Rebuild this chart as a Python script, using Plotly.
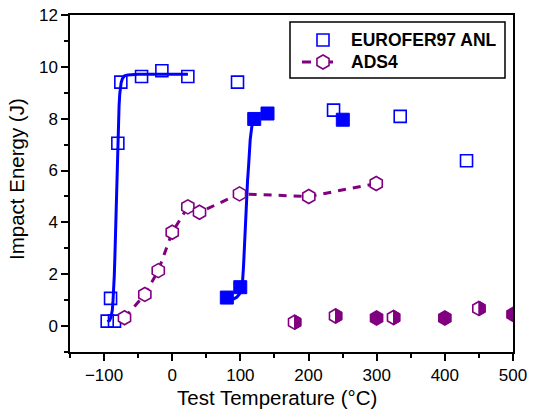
import plotly.graph_objects as go

# EUROFER97 ANL - open squares
euro_open_T = [-95.4, -90.5, -84.7, -79.8, -75.4, -45.0, -15.2, 22.9, 95.8, 236.7, 334.5, 431.8]
euro_open_E = [0.19, 1.07, 0.19, 7.05, 9.41, 9.63, 9.85, 9.63, 9.41, 8.33, 8.09, 6.38]

# EUROFER97 ANL - filled squares
euro_fill_T = [80.1, 99.8, 120.3, 139.8, 250.3]
euro_fill_E = [1.10, 1.50, 7.99, 8.20, 7.96]

# transition curves (traced along the drawn fits)
fit1_T = [-95, -92, -90, -88, -87, -86, -85, -84, -83, -82, -81, -80, -79, -78, -77, -76, -75, -73, -70, -65, -50, 0, 23]
fit1_E = [0.17, 0.22, 0.34, 0.6, 0.92, 1.35, 1.95, 2.8, 3.79, 4.93, 6.07, 7.1, 7.91, 8.5, 8.95, 9.2, 9.38, 9.55, 9.65, 9.69, 9.71, 9.71, 9.71]
fit2_T = [89, 95, 99, 102.5, 104.6, 106.5, 108.6, 110.5, 112, 114.4, 116.8, 120]
fit2_E = [1.03, 1.12, 1.25, 1.45, 2.3, 3.5, 4.9, 5.6, 6.16, 7.19, 7.7, 8.0]

# ADS4 - open hexagons joined by dashed line
ads_T = [-70.0, -40.2, -20.5, 0.0, 22.9, 40.0, 98.7, 200.4, 299.3]
ads_E = [0.32, 1.22, 2.14, 3.62, 4.60, 4.39, 5.10, 5.00, 5.50]

# ADS4 - half-filled hexagons
ads_half_T = [179.5, 239.6, 324.7, 449.9]
ads_half_E = [0.15, 0.39, 0.33, 0.68]

# ADS4 - filled hexagons
ads_fill_T = [299.8, 400.0, 500.0]
ads_fill_E = [0.31, 0.31, 0.45]

legend_names = ["EUROFER97 ANL", "ADS4"]

BLUE = "#0000FF"
PURPLE = "#800080"
FONT = "Liberation Sans, Arial, Helvetica, sans-serif"
HEX_SIZE = 14
SQ_SIZE = 12
DASH = "8px,7px"

fig = go.Figure()

for tx, ey in ((fit1_T, fit1_E), (fit2_T, fit2_E)):
    fig.add_trace(go.Scatter(x=tx, y=ey, mode="lines",
                             line=dict(color=BLUE, width=3),
                             showlegend=False, hoverinfo="skip"))

open_square = dict(symbol="square", size=SQ_SIZE, color="rgba(0,0,0,0)",
                   line=dict(color=BLUE, width=1.6))
open_hex = dict(symbol="hexagon", size=HEX_SIZE, color="white",
                line=dict(color=PURPLE, width=1.6))

fig.add_trace(go.Scatter(
    x=euro_open_T, y=euro_open_E, mode="markers", name=legend_names[0],
    marker=open_square, showlegend=False))

fig.add_trace(go.Scatter(
    x=euro_fill_T, y=euro_fill_E, mode="markers", showlegend=False,
    marker=dict(symbol="square", size=SQ_SIZE + 1, color=BLUE,
                line=dict(color=BLUE, width=1))))

fig.add_trace(go.Scatter(
    x=ads_T, y=ads_E, mode="lines+markers", name=legend_names[1],
    line=dict(color=PURPLE, width=3, dash=DASH),
    marker=open_hex, showlegend=False))

fig.add_trace(go.Scatter(
    x=ads_half_T, y=ads_half_E, mode="markers", showlegend=False,
    marker=open_hex))

fig.add_trace(go.Scatter(
    x=ads_fill_T, y=ads_fill_E, mode="markers", showlegend=False,
    marker=dict(symbol="hexagon", size=HEX_SIZE, color=PURPLE,
                line=dict(color=PURPLE, width=1.6))))

# right half of each half-filled hexagon, sized in pixels around its data point
r = HEX_SIZE / 2
r1 = r * 1.05
r2 = r / 2 * 1.05
r3 = r * 3 ** 0.5 / 2 * 1.05
half_path = f"M0,{-r1:.2f} L{r3:.2f},{-r2:.2f} L{r3:.2f},{r2:.2f} L0,{r1:.2f} Z"
for tx, ey in zip(ads_half_T, ads_half_E):
    fig.add_shape(type="path", xref="x", yref="y",
                  xsizemode="pixel", ysizemode="pixel",
                  xanchor=tx, yanchor=ey, path=half_path,
                  fillcolor=PURPLE, line=dict(color=PURPLE, width=1),
                  layer="above")

# ---- legend box, drawn on an overlay axis spanning the plot area (0..1) ----
plot_l, plot_r, plot_t, plot_b = 70, 513, 15, 352
pw, ph = plot_r - plot_l, plot_b - plot_t


def px_x(p):
    return (p - plot_l) / pw


def px_y(p):
    return 1 - (p - plot_t) / ph


fig.add_shape(type="rect", xref="paper", yref="paper",
              x0=px_x(290), x1=px_x(505), y0=px_y(78), y1=px_y(22),
              line=dict(color="black", width=1.5), fillcolor="white", layer="below")

row_y = [px_y(40), px_y(62)]
sym_x = px_x(323)
fig.add_trace(go.Scatter(x=[sym_x], y=[row_y[0]], xaxis="x2", yaxis="y2",
                         mode="markers", marker=open_square,
                         showlegend=False, hoverinfo="skip"))
fig.add_trace(go.Scatter(x=[px_x(302), sym_x, px_x(342)], y=[row_y[1]] * 3,
                         xaxis="x2", yaxis="y2", mode="lines",
                         line=dict(color=PURPLE, width=3, dash="9px,13px"),
                         showlegend=False, hoverinfo="skip"))
fig.add_trace(go.Scatter(x=[sym_x], y=[row_y[1]], xaxis="x2", yaxis="y2",
                         mode="markers", marker=open_hex,
                         showlegend=False, hoverinfo="skip"))
for name, yy in zip(legend_names, row_y):
    fig.add_annotation(x=px_x(349), y=yy, xref="paper", yref="paper",
                       xanchor="left", yanchor="middle", showarrow=False,
                       text=f"<b>{name}</b>",
                       font=dict(family=FONT, size=17.5, color="black"))

axis_common = dict(
    showline=True, linecolor="black", linewidth=1.5, mirror=True,
    ticks="outside", ticklen=7, tickwidth=1.5, tickcolor="black",
    showgrid=False, zeroline=False, automargin=False,
    tickfont=dict(family=FONT, size=17, color="black"),
)

fig.update_xaxes(
    range=[-150, 500], tick0=0, dtick=100,
    minor=dict(ticks="outside", ticklen=4, tickwidth=1.5, tickcolor="black", dtick=50, tick0=0),
    **axis_common)
fig.update_yaxes(
    range=[-1, 12], tick0=0, dtick=2,
    minor=dict(ticks="outside", ticklen=4, tickwidth=1.5, tickcolor="black", dtick=1, tick0=0),
    **axis_common)

# axis titles
fig.add_annotation(x=px_x(277), y=px_y(397), xref="paper", yref="paper",
                   xanchor="center", yanchor="middle", showarrow=False,
                   text="Test Temperature (°C)",
                   font=dict(family=FONT, size=20.5, color="black"))
fig.add_annotation(x=px_x(17), y=px_y(179), xref="paper", yref="paper",
                   xanchor="center", yanchor="middle", showarrow=False,
                   textangle=-90, text="Impact Energy (J)",
                   font=dict(family=FONT, size=20.5, color="black"))

fig.update_layout(
    width=533, height=409,
    margin=dict(l=plot_l, r=533 - plot_r, t=plot_t, b=409 - plot_b),
    paper_bgcolor="white", plot_bgcolor="white",
    font=dict(family=FONT, color="black"),
    showlegend=False,
    xaxis2=dict(overlaying="x", range=[0, 1], visible=False, fixedrange=True),
    yaxis2=dict(overlaying="y", range=[0, 1], visible=False, fixedrange=True),
)

fig.write_html("out.html")
